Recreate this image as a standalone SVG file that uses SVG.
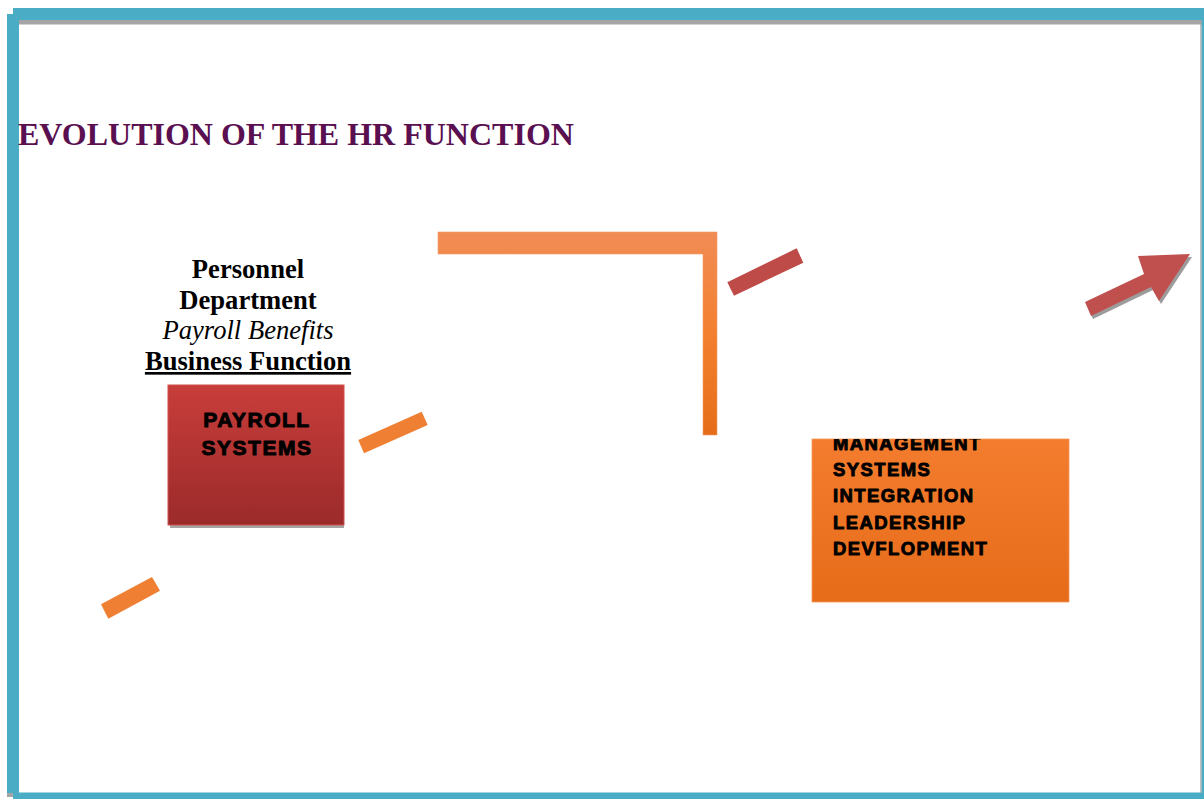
<svg xmlns="http://www.w3.org/2000/svg" width="1204" height="799" viewBox="0 0 1204 799">
<defs>
<linearGradient id="gRed" x1="0" y1="0" x2="0" y2="1">
<stop offset="0" stop-color="#c83d3b"/>
<stop offset="1" stop-color="#9b2b2a"/>
</linearGradient>
<linearGradient id="gOrange" x1="0" y1="0" x2="0" y2="1">
<stop offset="0" stop-color="#f47c2e"/>
<stop offset="1" stop-color="#e66c19"/>
</linearGradient>
<linearGradient id="gL" x1="0" y1="232" x2="0" y2="435" gradientUnits="userSpaceOnUse">
<stop offset="0" stop-color="#f18c55"/>
<stop offset="0.5" stop-color="#f3802f"/>
<stop offset="1" stop-color="#e56d19"/>
</linearGradient>
<clipPath id="clipO"><rect x="812" y="439" width="257" height="163"/></clipPath>
</defs>
<style>
.teal{fill:#4aacc5}
.gray{fill:#a5a5a5}
.title{font-family:"Liberation Serif",serif;font-weight:bold;font-size:32px;fill:#5a1050}
.lbl{font-family:"Liberation Serif",serif;font-size:26.6px;fill:#000;text-anchor:middle}
.heavy{font-family:"Liberation Sans",Arial,sans-serif;font-weight:bold;fill:#000;stroke:#000;stroke-linejoin:round}
.dashO{fill:#ee7f33}
.dashR{fill:#be4b48}
</style>
<rect width="1204" height="799" fill="#fff"/>
<g id="frame">
<rect class="teal" x="13" y="8" width="1191" height="12"/>
<rect class="gray" x="19" y="20" width="1183" height="4.5"/>
<rect class="teal" x="7" y="14" width="12" height="779"/>
<rect class="teal" x="13" y="792.5" width="1191" height="6.5"/>
<rect class="gray" x="1200.3" y="20" width="1.4" height="773"/>
<rect class="teal" x="1201.7" y="20" width="2.3" height="779"/>
<rect class="gray" x="7" y="793" width="6" height="4"/>
</g>
<g id="title">
<text class="title" x="18" y="145">EVOLUTION OF THE HR FUNCTION</text>
</g>
<g id="personnel">
<text class="lbl" x="248" y="278" font-weight="bold">Personnel</text>
<text class="lbl" x="248" y="309" font-weight="bold">Department</text>
<text class="lbl" x="248" y="339" font-style="italic">Payroll Benefits</text>
<text class="lbl" x="248" y="370" font-weight="bold" text-decoration="underline">Business Function</text>
</g>
<g id="payroll">
<rect x="170" y="388" width="174" height="140" fill="#a5a5a5"/>
<rect x="168" y="385" width="176" height="140" fill="url(#gRed)" stroke="#d0504c" stroke-width="1"/>
<text class="heavy" x="257" y="427" font-size="21" stroke-width="1" letter-spacing="1.5" text-anchor="middle">PAYROLL</text>
<text class="heavy" x="257" y="455" font-size="21" stroke-width="1" letter-spacing="1.5" text-anchor="middle">SYSTEMS</text>
</g>
<g id="management">
<rect x="812" y="439" width="257" height="163" fill="url(#gOrange)" stroke="#f59a5a" stroke-width="0.8"/>
<g clip-path="url(#clipO)">
<text class="heavy" x="833" y="449.5" font-size="18.5" stroke-width="0.9" letter-spacing="1.4">MANAGEMENT</text>
<text class="heavy" x="833" y="476" font-size="18.5" stroke-width="0.9" letter-spacing="1.4">SYSTEMS</text>
<text class="heavy" x="833" y="502" font-size="18.5" stroke-width="0.9" letter-spacing="1.4">INTEGRATION</text>
<text class="heavy" x="833" y="529" font-size="18.5" stroke-width="0.9" letter-spacing="1.4">LEADERSHIP</text>
<text class="heavy" x="833" y="555" font-size="18.5" stroke-width="0.9" letter-spacing="1.4">DEVFLOPMENT</text>
</g>
</g>
<g id="connectors">
<path d="M438 232 H717 V435 H703 V254 H438 Z" fill="url(#gL)" stroke="#f59a62" stroke-width="0.6"/>
<polygon class="dashO" points="101,604.3 152,577 160,590.7 108.3,618.7"/>
<polygon class="dashO" points="358.3,440 421.7,411.7 427.7,425 364,453.3"/>
<polygon class="dashR" points="727.3,282.3 796.7,248.3 803.3,262.7 734,295.7"/>
<polygon fill="#9c9c9c" points="1087,305 1146,277 1140,259 1192,257 1161,304 1153,290 1093,319"/>
<polygon fill="#c0504d" points="1085,302 1144,274 1138,256 1190,254 1159,301 1151,287 1091,316"/>
</g>
</svg>
